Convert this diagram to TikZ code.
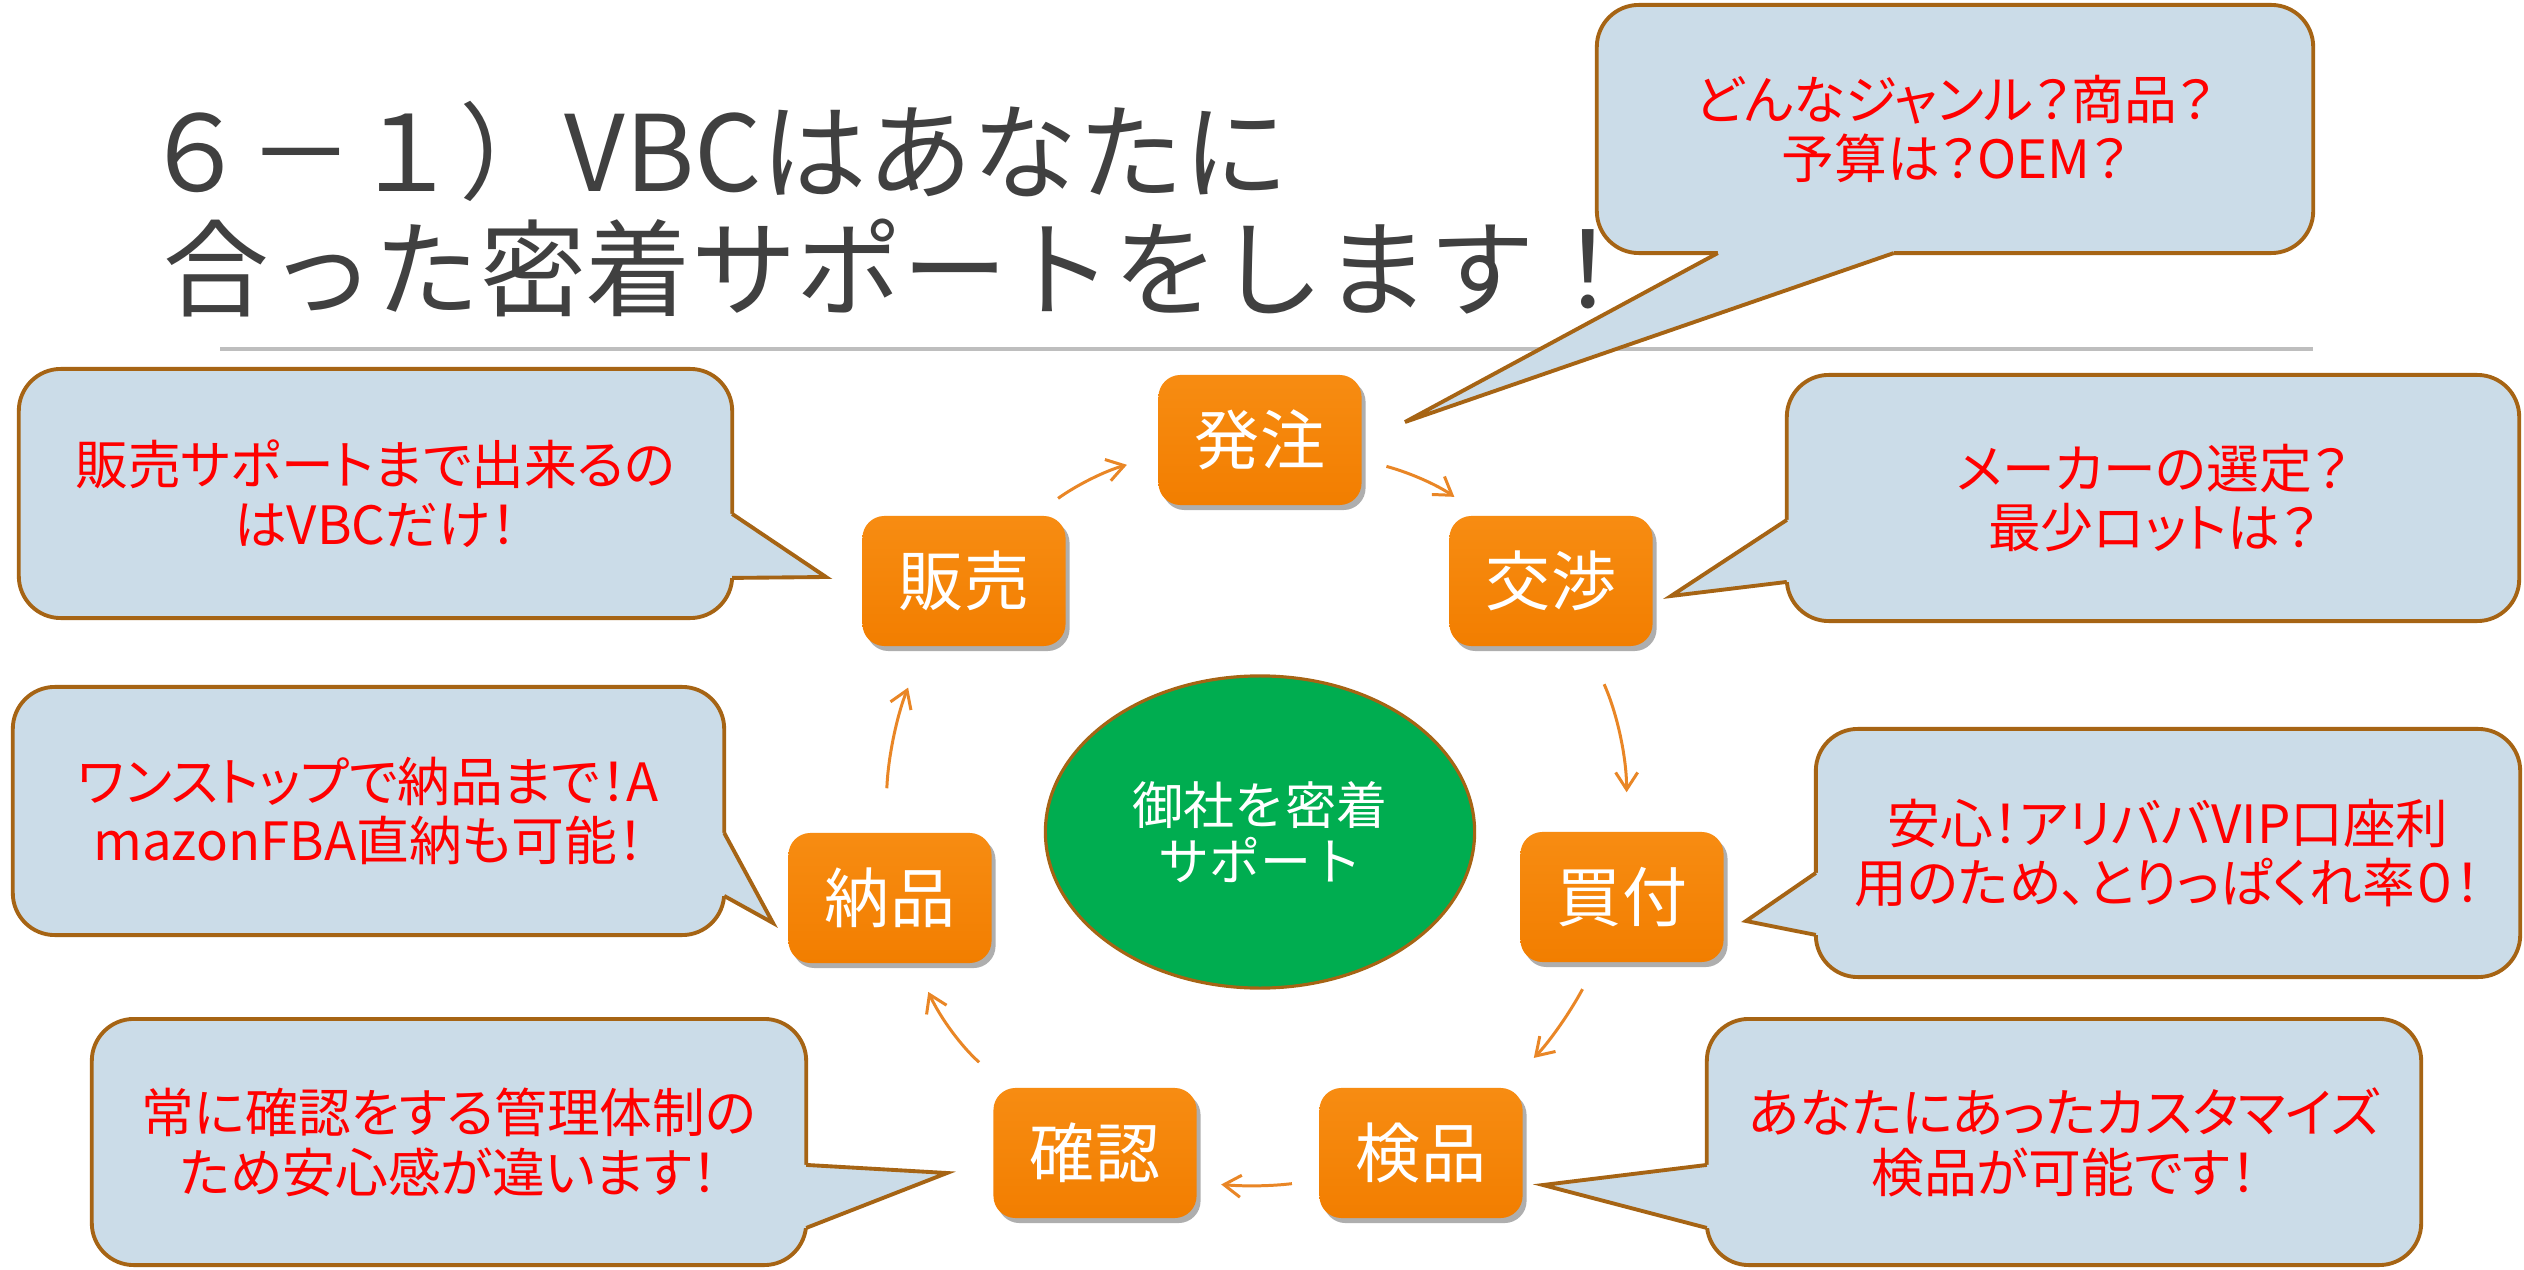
\documentclass[tikz,border=0pt]{standalone}
\usepackage{fontspec}
\usetikzlibrary{shapes.geometric,shadows,calc,arrows.meta}

\newfontfamily\jp{Noto Sans CJK JP}
\newfontfamily\jpp[RawFeature=+palt]{Noto Sans CJK JP}

\definecolor{titlegray}{RGB}{64,64,64}
\definecolor{rulegray}{RGB}{190,190,190}
\definecolor{memofill}{RGB}{203,220,232}
\definecolor{memoline}{RGB}{166,100,20}
\definecolor{steporange}{RGB}{242,126,0}
\definecolor{steplight}{RGB}{247,140,18}
\definecolor{flowcolor}{RGB}{233,134,38}
\definecolor{hubgreen}{RGB}{0,173,80}

\tikzset{
  titletext/.style={anchor=base west, inner sep=0pt, text=titlegray,
    font=\jp\fontsize{30}{33}\selectfont},
  stepbox/.style={rounded corners=0.22cm, minimum width=2.03cm, minimum height=1.30cm,
    inner sep=0pt, top color=steplight, bottom color=steporange, text=white,
    font=\jp\fontsize{18.5}{20}\selectfont,
    drop shadow={shadow xshift=0.04cm, shadow yshift=-0.05cm, opacity=0.45, fill=black!70}},
  memo/.style={rounded corners=0.42cm, fill=memofill, draw=memoline, line width=1.1pt,
    outer sep=0pt, inner sep=0pt, text=red, align=center,
    font=\jpp\fontsize{15}{17}\selectfont},
  tailline/.style={draw=memoline, line width=1.1pt, line join=miter},
  flow/.style={draw=flowcolor, line width=0.85pt,
    -{Straight Barb[length=0.17cm, width=0.22cm]}},
  hub/.style={ellipse, minimum width=4.29cm, minimum height=3.12cm, fill=hubgreen,
    draw=memoline, line width=0.9pt, text=white, align=center,
    font=\jp\fontsize{14.5}{16}\selectfont}
}

% tail of a speech bubble: corner, base offsets, inward shift, tip
\newcommand{\memotail}[5]{%
  \fill[memofill] ($#1+#2+#4$) -- ($#1+#2$) -- #5 -- ($#1+#3$) -- ($#1+#3+#4$) -- cycle;
  \draw[tailline] ($#1+#2$) -- #5 -- ($#1+#3$);
}

\begin{document}
\begin{tikzpicture}[x=0.01cm, y=-0.01cm]
    \useasboundingbox (0,0) rectangle (2524,1270);
    \fill[white] (0,0) rectangle (2524,1270);

    % Title
    \node[titletext] (titleA) at (142,192) {６－１）VBCはあなたに};
    \node[titletext] (titleB) at (163,309) {合った密着サポートをします！};
    \draw[rulegray, line width=0.9pt] (220,349) -- (2313,349);

    % Speech bubbles
    \node[memo, minimum width=7.16cm, minimum height=2.48cm] (memoHatchu) at (1955,129)
        {どんなジャンル？商品？\\予算は？OEM？};
    \node[memo, minimum width=7.32cm, minimum height=2.46cm] (memoKosho) at (2153,498)
        {メーカーの選定？\\最少ロットは？};
    \node[memo, minimum width=7.04cm, minimum height=2.48cm] (memoKaitsuke) at (2168,853)
        {安心！アリババVIP口座利\\用のため、とりっぱくれ率０！};
    \node[memo, minimum width=7.13cm, minimum height=2.49cm] (memoHanbai) at (375.5,493.5)
        {販売サポートまで出来るの\\はVBCだけ！};
    \node[memo, minimum width=7.11cm, minimum height=2.48cm] (memoNohin) at (368.5,811)
        {ワンストップで納品まで！A\\mazonFBA直納も可能！};
    \node[memo, minimum width=7.14cm, minimum height=2.46cm] (memoKakunin) at (449,1142)
        {常に確認をする管理体制の\\ため安心感が違います！};
    \node[memo, minimum width=7.14cm, minimum height=2.46cm] (memoKenpin) at (2064,1142)
        {あなたにあったカスタマイズ\\検品が可能です！};

    \coordinate (tipHatchu) at (1405,422);
    \coordinate (tipKosho) at (1671,596);
    \coordinate (tipKaitsuke) at (1746,921);
    \coordinate (tipHanbai) at (826,577);
    \coordinate (tipNohin) at (773,923);
    \coordinate (tipKakunin) at (947,1173);
    \coordinate (tipKenpin) at (1543,1185);

    \memotail{(memoHatchu.south west)}{(121,0)}{(297,0)}{(0,-8)}{(tipHatchu)}
    \memotail{(memoKosho.north west)}{(0,145)}{(0,207)}{(8,0)}{(tipKosho)}
    \memotail{(memoKaitsuke.north west)}{(0,144)}{(0,206)}{(8,0)}{(tipKaitsuke)}
    \memotail{(memoHanbai.north east)}{(0,145)}{(0,209)}{(-8,0)}{(tipHanbai)}
    \memotail{(memoNohin.north east)}{(0,146)}{(0,209)}{(-8,0)}{(tipNohin)}
    \memotail{(memoKakunin.north east)}{(0,146)}{(0,209)}{(-8,0)}{(tipKakunin)}
    \memotail{(memoKenpin.north west)}{(0,146)}{(0,209)}{(8,0)}{(tipKenpin)}

    % Cycle of steps
    \node[hub] (hub) at (1260,832) {御社を密着\\サポート};

    \node[stepbox] (hatchu) at (1260,440) {発注};
    \node[stepbox] (kosho) at (1551,581) {交渉};
    \node[stepbox] (kaitsuke) at (1622,897) {買付};
    \node[stepbox] (kenpin) at (1421,1153) {検品};
    \node[stepbox] (kakunin) at (1095,1153) {確認};
    \node[stepbox] (nohin) at (890,898) {納品};
    \node[stepbox] (hanbai) at (964,581) {販売};

    \draw[flow, shorten <=0.29cm, shorten >=0.32cm] (hanbai.43) to[bend left=10] (hatchu.189);
    \draw[flow, shorten <=0.25cm, shorten >=0.32cm] (hatchu.-11) to[bend left=10] (kosho.137);
    \draw[flow, shorten <=0.41cm, shorten >=0.39cm] (kosho.-61) to[bend left=12] (kaitsuke.86);
    \draw[flow, shorten <=0.30cm, shorten >=0.41cm] (kaitsuke.-111) to[bend left=8] (kenpin.38);
    \draw[flow, shorten <=0.27cm, shorten >=0.24cm] (kenpin.195) to[bend left=6] (kakunin.-16);
    \draw[flow, shorten <=0.38cm, shorten >=0.31cm] (kakunin.143) to[bend left=12] (nohin.-69);
    \draw[flow, shorten <=0.44cm, shorten >=0.44cm] (nohin.94) to[bend left=10] (hanbai.-121);
\end{tikzpicture}
\end{document}
